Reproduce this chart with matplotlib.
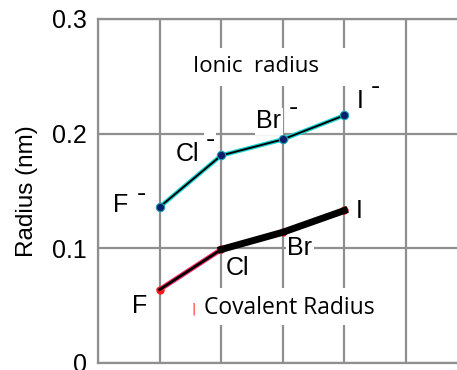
from matplotlib import pyplot as plt
from matplotlib.patches import Rectangle
import numpy as np

# halogen radii (nm)
elements      = ['F', 'Cl', 'Br', 'I']
covalent      = [0.064, 0.099, 0.114, 0.133]
ionic         = [0.136, 0.181, 0.195, 0.216]
yticks        = [0, 0.1, 0.2, 0.3]
ytick_labels  = ['0', '0.1', '0.2', '0.3']

x = np.arange(1, len(elements) + 1)

label_font = 'Liberation Sans'
note_font  = 'Open Sans'
grid_color = '#8f8f8f'

fig = plt.figure(figsize=(4.57, 3.70), dpi=100)
ax = fig.add_axes([98/457, 7/370, 359/457, 344/370])

ax.set_xlim(0, 359/61.6)
ax.set_ylim(0, 0.3)
ax.set_xticks(np.arange(0, 6))
ax.set_yticks(yticks)
ax.set_yticklabels(ytick_labels, family=label_font, fontsize=18)
ax.tick_params(axis='x', length=0, labelbottom=False)
ax.tick_params(axis='y', length=0, pad=8)
ax.grid(True, color=grid_color, linewidth=1.6)
ax.set_axisbelow(True)
for s in ['left', 'bottom', 'top']:
    ax.spines[s].set_color(grid_color)
    ax.spines[s].set_linewidth(1.6)
ax.spines['right'].set_visible(False)

ax.set_ylabel('Radius (nm)', family=label_font, fontsize=17.5, labelpad=10)

# white panels behind the two captions break the grid lines
ax.add_patch(Rectangle((1.17, 0.2415), 2.95, 0.033, facecolor='white',
                       edgecolor='none', zorder=2))
ax.add_patch(Rectangle((1.45, 0.0331), 3.2, 0.0323, facecolor='white',
                       edgecolor='none', zorder=2))

# ionic radius: cyan line with dark core
ax.plot(x, ionic, color='#1ad6d6', linewidth=3.2, zorder=3)
ax.plot(x, ionic, color='black', linewidth=1.4, zorder=4)
ax.plot(x, ionic, 'o', color='#0a1e6e', markersize=6, markeredgecolor='#1aa0b0',
        markeredgewidth=0.8, zorder=5)

# covalent radius: thin F-Cl segment, thick for the rest
ax.plot(x[:2], covalent[:2], color='#ff2a6a', linewidth=3.6, zorder=3)
ax.plot(x[:2], covalent[:2], color='black', linewidth=2.0, zorder=4)
ax.plot(x[1:], covalent[1:], color='black', linewidth=5.0, zorder=4)
ax.plot(x, covalent, 'o', color='#ff1a1a', markersize=6, markeredgewidth=0, zorder=3)

# element labels, offsets in pixels from each point
box = dict(facecolor='white', edgecolor='none', pad=1)
ion_off   = [(-39, 2), (-34, 1), (-14, 18), (16, 14)]
minus_off = [(-18, 13), (-11, 15), (11, 31), (31, 28)]
cov_off   = [(-20, -16), (16, -19), (17, -16), (15, -1)]
for i, el in enumerate(elements):
    ax.annotate(el, (x[i], ionic[i]), xytext=ion_off[i], textcoords='offset pixels',
                ha='center', va='center', family=label_font, fontsize=18,
                bbox=box, zorder=6)
    ax.annotate('-', (x[i], ionic[i]), xytext=minus_off[i], textcoords='offset pixels',
                ha='center', va='center', family=label_font, fontsize=20,
                bbox=box, zorder=6)
    ax.annotate(el, (x[i], covalent[i]), xytext=cov_off[i], textcoords='offset pixels',
                ha='center', va='center', family=label_font, fontsize=18,
                bbox=box, zorder=6)

ax.text(2.56, 0.259, 'Ionic  radius', ha='center', va='center', family=note_font,
        fontsize=16, zorder=6)
ax.text(3.11, 0.0477, 'Covalent Radius', ha='center', va='center', family=note_font,
        fontsize=16.5, zorder=6)
ax.text(1.55, 0.047, '|', ha='center', va='center', color='#ff1a1a', fontsize=9, zorder=7)

fig.savefig('out.png', dpi=100)
